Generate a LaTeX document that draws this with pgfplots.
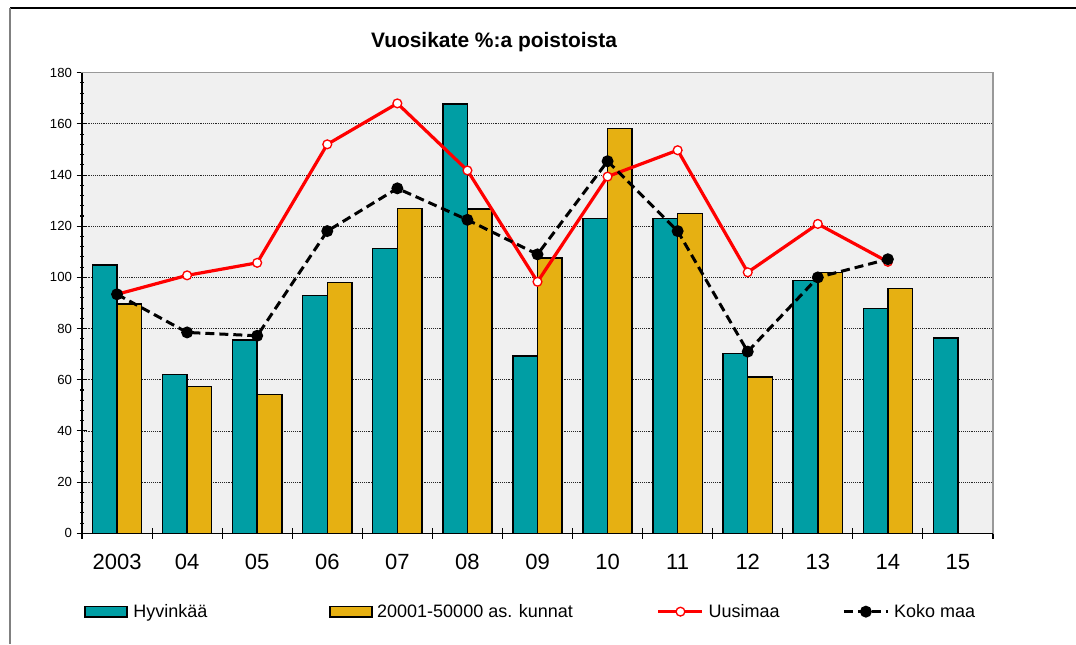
\documentclass[border=0pt]{standalone}
\usepackage{pgfplots}
\pgfplotsset{compat=1.18}
\usepackage{fontspec}
\setmainfont{Liberation Sans}
\definecolor{teal1}{RGB}{0,158,164}
\definecolor{gold1}{RGB}{230,176,18}
\definecolor{bg}{RGB}{240,240,240}
\pgfplotsset{
  barleg/.style={legend image code/.code={\draw[##1] (0pt,-4pt) rectangle (31.5pt,4pt);}},
  lineleg/.style={legend image code/.code={\draw[##1, mark repeat=2, mark phase=2] plot coordinates {(0pt,0pt) (16.5pt,0pt) (33pt,0pt)};}},
}
\begin{document}
\begin{tikzpicture}
\begin{axis}[
  at={(61.5pt,83pt)}, anchor=south west,
  width=683.25pt, height=345.5pt, scale only axis,
  xmin=-0.5, xmax=12.5, ymin=0, ymax=180,
  axis background/.style={fill=bg},
  axis line style={draw=gray!80, line width=0.8pt},
  xtick pos=bottom, ytick pos=left,
  xtick={-0.5,0.5,1.5,2.5,3.5,4.5,5.5,6.5,7.5,8.5,9.5,10.5,11.5,12.5},
  xticklabels={2003,04,05,06,07,08,09,10,11,12,13,14,15,{}},
  xticklabel style={anchor=base, xshift=26.28pt, yshift=-23pt, font=\fontsize{16.5}{18}\selectfont},
  ytick={0,20,40,60,80,100,120,140,160,180},
  minor y tick num=4,
  yticklabel style={font=\fontsize{9.9}{11}\selectfont},
  tick align=center, major tick length=8pt, minor tick length=3pt,
  tick style={black, line width=0.8pt},
  ymajorgrids, major grid style={black!85, densely dotted, line width=0.6pt},
  /pgf/number format/assume math mode=true,
  legend columns=4,
  legend cell align=left,
  legend style={draw=none, fill=none, at={(-0.0022,-0.17)}, anchor=west,
    font=\fontsize{13.5}{15}\selectfont},
  after end axis/.code={\draw[black, line width=0.8pt] (rel axis cs:0,1) -- (rel axis cs:0,0) -- (rel axis cs:1,0);},
]
\addplot[ybar, bar width=0.351, bar shift=-0.1755, fill=teal1, draw=black, line width=1.1pt, barleg]
  coordinates {(0,104.8) (1,62.0) (2,75.5) (3,92.9) (4,111.2) (5,167.8) (6,69.3) (7,123.1) (8,123.1) (9,70.3) (10,98.7) (11,87.9) (12,76.4)};
\addlegendentry{\makebox[147pt][l]{\hspace{2.25pt}Hyvinkää}}
\addplot[ybar, bar width=0.351, bar shift=0.1755, fill=gold1, draw=black, line width=1.1pt, barleg]
  coordinates {(0,89.6) (1,57.3) (2,54.2) (3,98.1) (4,127.0) (5,126.7) (6,107.5) (7,158.1) (8,124.9) (9,61.1) (10,102.0) (11,95.6)};
\addlegendentry{\makebox[209.25pt][l]{\hspace{1.5pt}20001-50000 as. kunnat}}
\addplot[red, line width=2.4pt, mark=*, mark size=3.3pt, mark options={fill=white, draw=red, line width=1pt}, lineleg]
  coordinates {(0,93.4) (1,100.8) (2,105.7) (3,152.0) (4,168.0) (5,141.8) (6,98.3) (7,139.4) (8,149.7) (9,102.0) (10,120.9) (11,106.1)};
\addlegendentry{\makebox[99.75pt][l]{\hspace{1.5pt}Uusimaa}}
\addplot[black, line width=2.25pt, dash pattern=on 6.75pt off 3.75pt, mark=*, mark size=3.3pt, mark options={solid, fill=black}, lineleg]
  coordinates {(0,93.4) (1,78.5) (2,77.2) (3,118.1) (4,134.8) (5,122.5) (6,109.0) (7,145.4) (8,118.1) (9,71.0) (10,100.0) (11,107.1)};
\addlegendentry{\hspace{1.5pt}Koko maa}
\end{axis}
\node[font=\bfseries\fontsize{15.7}{18}\selectfont] at (370.5pt,451.5pt) {Vuosikate \%:a poistoista};
\draw[black, line width=1.5pt] (7.5pt,477pt) -- (807pt,477pt);
\draw[gray, line width=1.5pt] (7.5pt,477pt) -- (7.5pt,0pt);
\pgfresetboundingbox
\useasboundingbox (0,0) rectangle (807pt,483pt);
\end{tikzpicture}
\end{document}
